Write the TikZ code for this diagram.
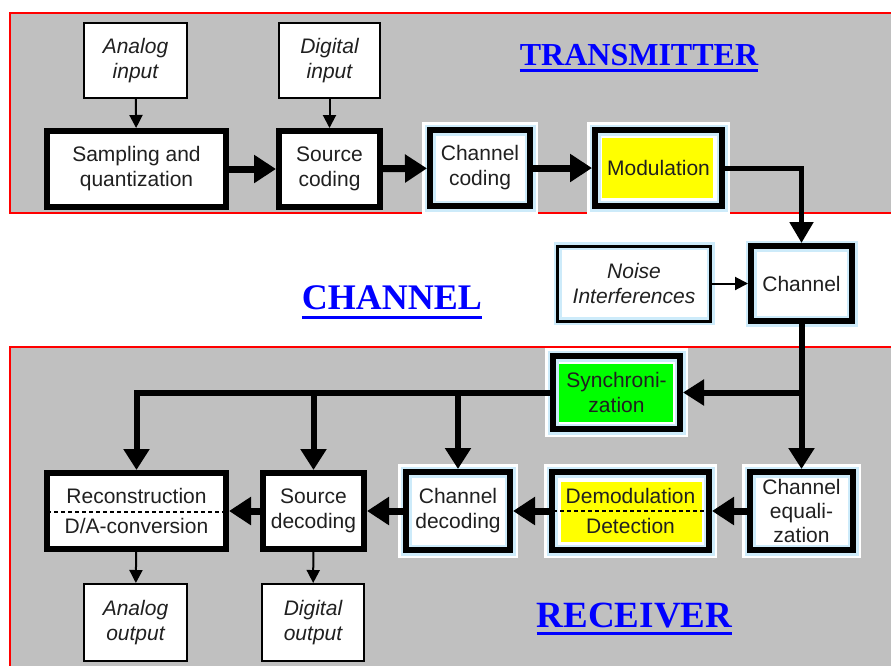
\documentclass[tikz,border=0pt]{standalone}
\usepackage{fontspec}
\setmainfont{Liberation Sans}
\newfontfamily\ttlfont{Liberation Serif}
\usetikzlibrary{arrows.meta}
\definecolor{panel}{HTML}{C0C0C0}
\definecolor{frame}{HTML}{FF0000}
\definecolor{glowc}{HTML}{CDEBFA}
\definecolor{txt}{HTML}{202020}
\definecolor{ttl}{HTML}{0000FF}
\definecolor{syncgreen}{HTML}{00FF00}
\definecolor{hl}{HTML}{FFFF00}
\begin{document}
\begin{tikzpicture}[x=1pt,y=-1pt,
  lbl/.style={font=\fontsize{21}{25}\selectfont, text=txt, align=center, inner sep=0pt},
  blk/.style={lbl, draw=black, fill=white, line width=6pt},
  io/.style={lbl, draw=black, fill=white, line width=2pt, font=\fontsize{21}{25}\selectfont\itshape},
  glowthick/.style={preaction={draw=white, line width=16pt}, postaction={draw=glowc, line width=11pt}, postaction={draw=black, line width=6pt}},
  glowthin/.style={preaction={draw=white, line width=13pt}, postaction={draw=glowc, line width=8pt}, postaction={draw=black, line width=3pt}},
  bigarrow/.style={line width=7pt, -{Triangle[length=22pt,width=27pt]}},
  droparrow/.style={line width=6pt, -{Triangle[length=21pt,width=25pt]}},
  thinarrow/.style={line width=2pt, -{Triangle[length=13pt,width=13pt]}},
  title/.style={text=ttl, inner sep=0pt, anchor=base},
  uline/.style={draw=ttl, line width=3pt},
  sep/.style={draw=black, line width=1.3pt, dash pattern=on 4pt off 3pt}
]
\useasboundingbox (0,0) rectangle (891,665);
\fill[white] (0,0) rectangle (891,665);
% panels
\draw[draw=frame, fill=panel, line width=2pt] (10,13) rectangle (900,213);
\draw[draw=frame, fill=panel, line width=2pt] (10,347) rectangle (900,675);

% titles
\node[title, font=\ttlfont\bfseries\fontsize{32}{32}\selectfont] (ttx) at (639,65) {TRANSMITTER};
\draw[uline] ([yshift=-5pt]ttx.base west) -- ([yshift=-5pt]ttx.base east);
\node[title, font=\ttlfont\bfseries\fontsize{36}{36}\selectfont] (tch) at (392,309) {CHANNEL};
\draw[uline] ([yshift=-8pt]tch.base west) -- ([yshift=-8pt]tch.base east);
\node[title, font=\ttlfont\bfseries\fontsize{37}{37}\selectfont] (trx) at (634.5,627) {RECEIVER};
\draw[uline] ([yshift=-6pt]trx.base west) -- ([yshift=-6pt]trx.base east);

% transmitter
\node[io, minimum width=103pt, minimum height=75pt] (ain) at (135.5,60.5) {Analog\\input};
\node[io, minimum width=101pt, minimum height=75pt] (din) at (329.5,60.5) {Digital\\input};
\node[blk, minimum width=179pt, minimum height=76pt] (samp) at (136.5,169) {Sampling and\\quantization};
\node[blk, minimum width=101pt, minimum height=76pt] (scod) at (329.5,169) {Source\\coding};
\node[blk, glowthick, minimum width=100pt, minimum height=76pt] (ccod) at (480,168) {Channel\\coding};
\node[blk, glowthick, minimum width=127pt, minimum height=76pt] (mod) at (658.5,168) {};
\fill[hl] (602,138) rectangle (713,198);
\node[lbl] (modt) at (mod.center) {Modulation};

% channel
\node[blk, glowthick, minimum width=101pt, minimum height=75pt] (chan) at (801.5,283.5) {Channel};
\node[io, glowthin, minimum width=153pt, minimum height=75pt] (noise) at (634,283.5) {Noise\\Interferences};

% receiver
\node[blk, glowthick, minimum width=127pt, minimum height=73pt] (sync) at (616.5,392.5) {};
\fill[syncgreen] (559,364) rectangle (673,422);
\node[lbl] (synct) at (sync.center) {Synchroni-\\zation};

\node[blk, minimum width=179pt, minimum height=76pt] (recon) at (136.5,511) {};
\node[lbl, anchor=base] (recont1) at (136.5,503) {Reconstruction};
\node[lbl, anchor=base] (recont2) at (136.5,533) {D/A-conversion};
\draw[sep] (47,512) -- (226,512);

\node[blk, minimum width=101pt, minimum height=76pt] (sdec) at (313.5,511) {Source\\decoding};
\node[io, minimum width=103pt, minimum height=77pt] (aout) at (135.5,622.5) {Analog\\output};
\node[io, minimum width=102pt, minimum height=77pt] (dout) at (313,622.5) {Digital\\output};
\node[blk, glowthick, minimum width=104pt, minimum height=78pt] (cdec) at (458,511) {Channel\\decoding};
\node[blk, glowthick, minimum width=157pt, minimum height=78pt] (demod) at (630.5,511) {};
\fill[hl] (561,482) rectangle (702,542);
\node[lbl, anchor=base] (demodt1) at (630.5,503) {Demodulation};
\node[lbl, anchor=base] (demodt2) at (630.5,533) {Detection};
\draw[sep] (553,511) -- (704,511);
\node[blk, glowthick, minimum width=103pt, minimum height=78pt, font=\fontsize{21}{24}\selectfont] (ceq) at (801.5,511) {Channel\\equali-\\zation};

% connectors: transmitter
\draw[thinarrow] (ain) -- (samp);
\draw[thinarrow] (din) -- (scod);
\draw[bigarrow] (samp) -- (scod);
\draw[bigarrow] (scod) -- (ccod);
\draw[bigarrow] (ccod) -- (mod);
\draw[line width=5pt, -{Triangle[length=21pt,width=23pt]}] (mod.east) -| (chan.north);
\draw[thinarrow] (noise.east) -- (chan.west);

% connectors: receiver
\draw[droparrow] (chan.south) -- (ceq.north);
\draw[droparrow] (chan.south |- sync.east) -- (sync.east);
\draw[droparrow] (sync.west) -| (recon.north);
\draw[droparrow] (sdec.north |- sync.west) -- (sdec.north);
\draw[droparrow] (cdec.north |- sync.west) -- (cdec.north);
\draw[bigarrow] (ceq) -- (demod);
\draw[bigarrow] (demod) -- (cdec);
\draw[bigarrow] (cdec) -- (sdec);
\draw[bigarrow] (sdec) -- (recon);
\draw[thinarrow] (recon) -- (aout);
\draw[thinarrow] (sdec) -- (dout);
\end{tikzpicture}
\end{document}
